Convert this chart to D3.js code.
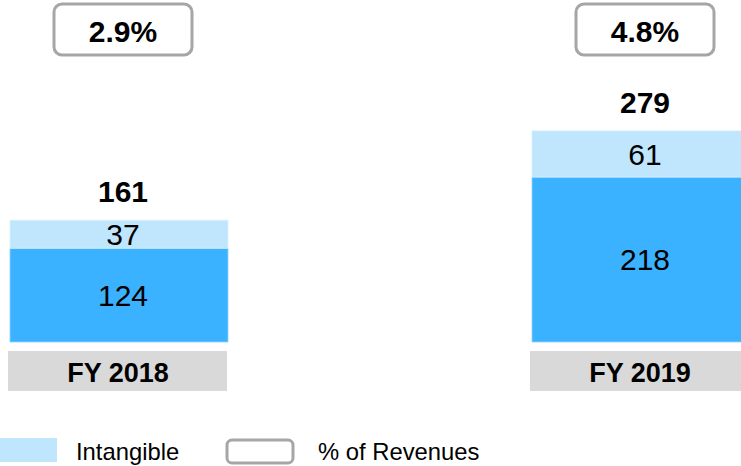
<!DOCTYPE html>
<html><head><meta charset="utf-8">
<script src="https://cdn.jsdelivr.net/npm/d3@7"></script>
<style>body{margin:0;background:#fff}svg{display:block;font-family:"Liberation Sans",Arial,sans-serif}</style>
</head><body><svg id="c" width="741" height="466"></svg>
<script>
const categories = ["FY 2018", "FY 2019"];
const tangible = [124, 218];
const intangible = [37, 61];
const totals = [161, 279];
const pctRevenues = ["2.9%", "4.8%"];
const legendLabels = ["Intangible", "% of Revenues"];

const colDark = "#3bb2ff", colLight = "#bfe6fd", colGrey = "#d9d9d9", colBox = "#a6a6a6";
const svg = d3.select("#c");
const x = d3.scaleBand().domain(categories).range([10, 750]).paddingInner(304/522).paddingOuter(0);
const y = d3.scaleLinear().domain([0, 300]).range([342, 115]);
const bw = x.bandwidth();
const cx = d => x(d) + 113;

const data = categories.map((c, i) => ({c, t: tangible[i], n: intangible[i], tot: totals[i], p: pctRevenues[i]}));
const g = svg.selectAll("g.cat").data(data).join("g").attr("class", "cat");

// tangible
g.append("rect").attr("x", d => x(d.c)).attr("width", bw)
  .attr("y", d => y(d.t)).attr("height", d => y(0) - y(d.t)).attr("fill", colDark)
  .attr("stroke", "#8fd2ff").attr("stroke-width", 0.8);
// intangible
g.append("rect").attr("x", d => x(d.c)).attr("width", bw)
  .attr("y", d => y(d.t + d.n)).attr("height", d => y(d.t) - y(d.t + d.n)).attr("fill", colLight)
  .attr("stroke", "#d8effd").attr("stroke-width", 0.8);

// value labels
g.append("text").attr("x", d => cx(d.c)).attr("y", d => (y(0) + y(d.t)) / 2).attr("dy", "0.36em")
  .attr("text-anchor", "middle").attr("font-size", 30).text(d => d.t);
g.append("text").attr("x", d => cx(d.c)).attr("y", d => (y(d.t) + y(d.t + d.n)) / 2).attr("dy", "0.36em")
  .attr("text-anchor", "middle").attr("font-size", 30).text(d => d.n);
// totals
g.append("text").attr("x", d => cx(d.c)).attr("y", d => y(d.tot) - 18)
  .attr("text-anchor", "middle").attr("font-size", 30).attr("font-weight", "bold").text(d => d.tot);

// category label boxes
g.append("rect").attr("x", d => x(d.c) - 2).attr("width", bw + 1).attr("y", 351).attr("height", 40).attr("fill", colGrey);
g.append("text").attr("x", d => x(d.c) + 108).attr("y", 381.5).attr("text-anchor", "middle")
  .attr("font-size", 27).attr("font-weight", "bold").text(d => d.c);

// pct boxes
g.append("rect").attr("x", d => cx(d.c) - 69).attr("width", 138).attr("y", 4).attr("height", 51)
  .attr("rx", 8).attr("fill", "#fff").attr("stroke", colBox).attr("stroke-width", 3);
g.append("text").attr("x", d => cx(d.c)).attr("y", 42).attr("text-anchor", "middle")
  .attr("font-size", 30).attr("font-weight", "bold").text(d => d.p);

// legend
const lg = svg.append("g");
lg.append("rect").attr("x", 0).attr("y", 438).attr("width", 57).attr("height", 24).attr("fill", colLight);
lg.append("text").attr("x", 76).attr("y", 459.5).attr("font-size", 23.8).text(legendLabels[0]);
lg.append("rect").attr("x", 227).attr("y", 440).attr("width", 66).attr("height", 23).attr("rx", 5)
  .attr("fill", "#fff").attr("stroke", colBox).attr("stroke-width", 3);
lg.append("text").attr("x", 318).attr("y", 459.5).attr("font-size", 23.8).text(legendLabels[1]);
</script></body></html>
